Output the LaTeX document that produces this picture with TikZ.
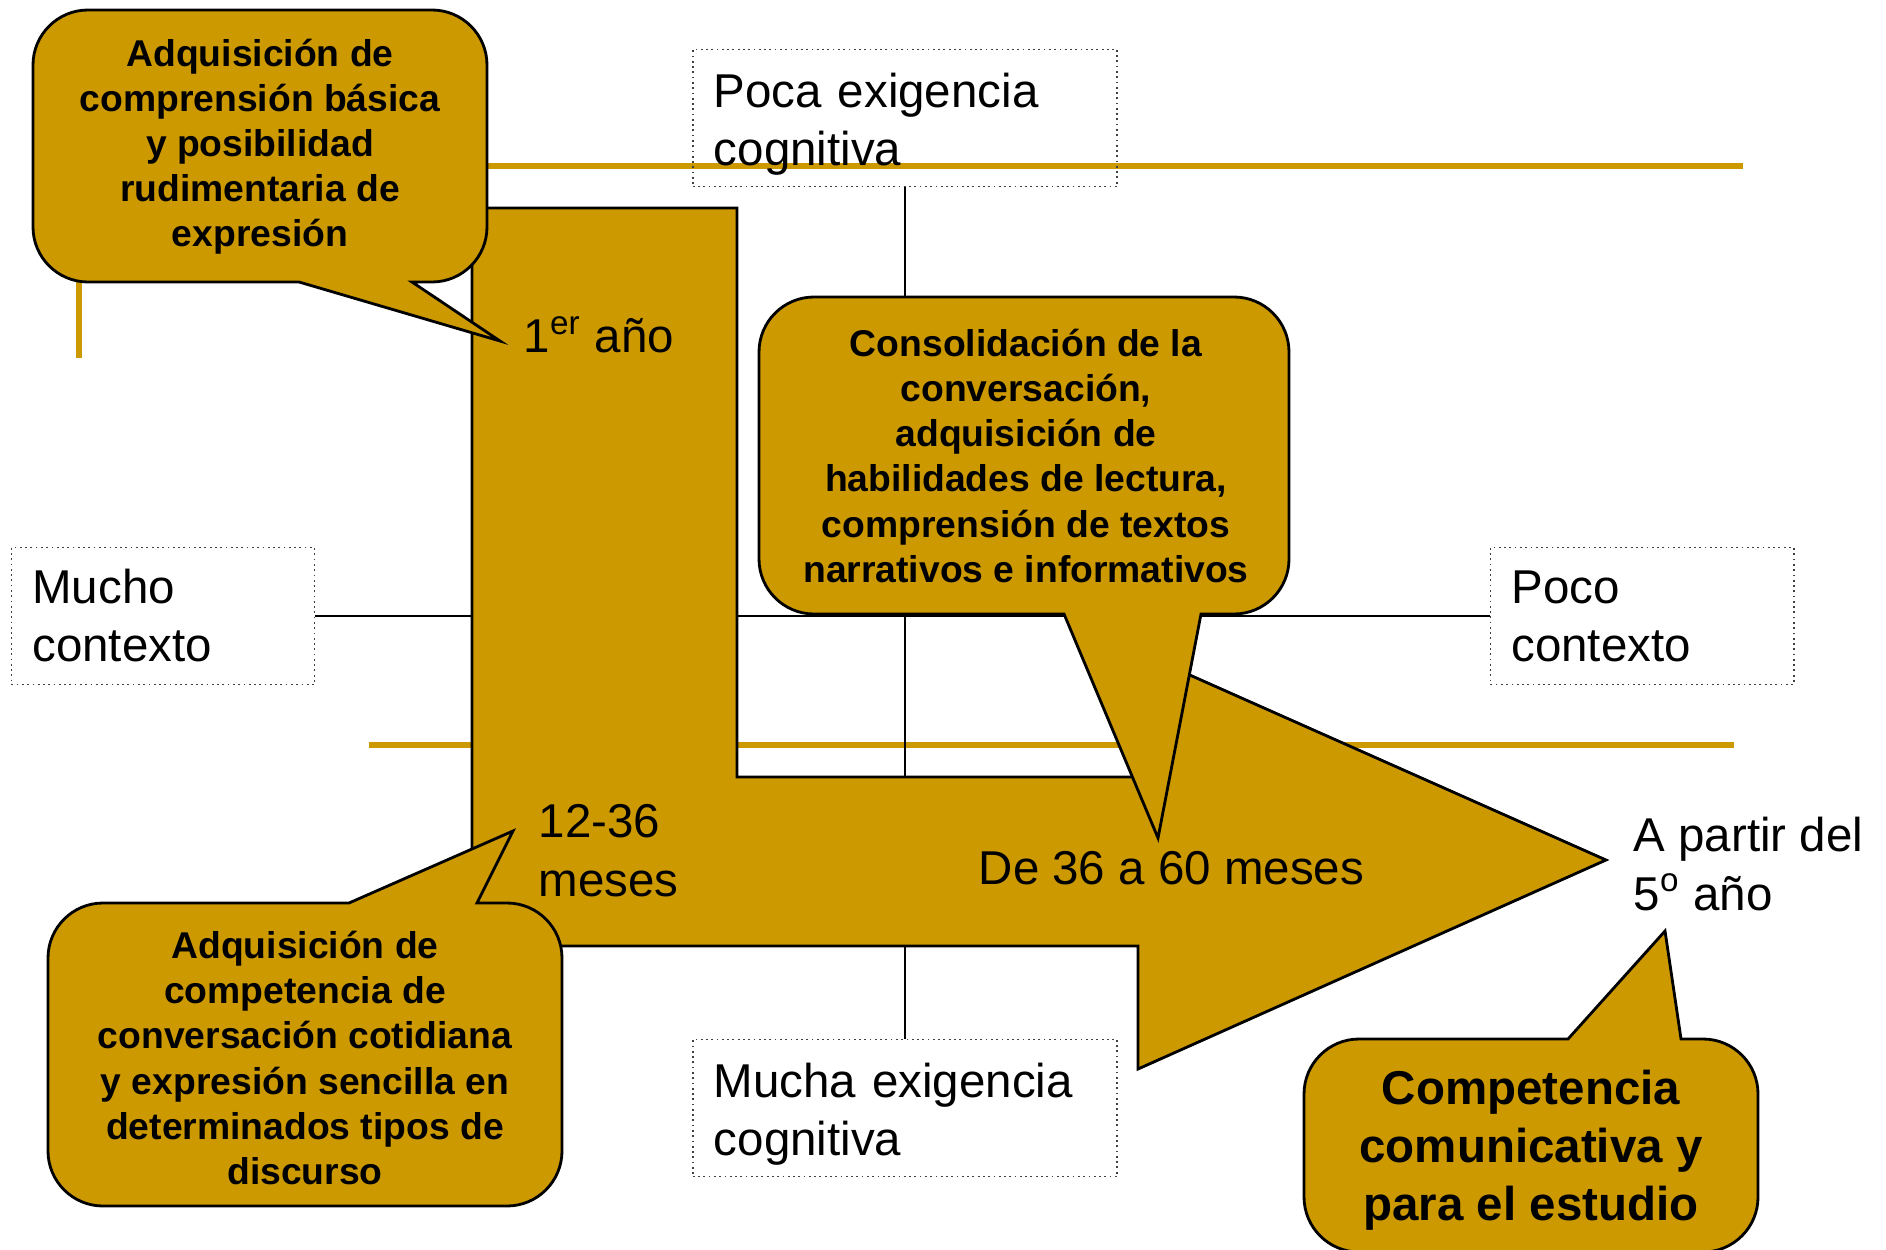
\documentclass[tikz,border=0pt]{standalone}
\usepackage{fontspec}
\setmainfont{Liberation Sans}
\definecolor{gold}{RGB}{204,153,0}

\begin{document}
\begin{tikzpicture}[x=0.01cm,y=-0.01cm,
  goldline/.style={gold,line width=1.5pt},
  axis/.style={black,line width=0.6pt},
  ctxbox/.style={draw=black!75,densely dotted,line width=0.5pt,text width=#1,align=left,
    inner xsep=0.21cm,inner ysep=0pt,minimum height=1.37cm,font=\fontsize{13.5}{16.5}\selectfont},
  growth/.style={fill=gold,draw=black,line width=0.8pt,line join=miter},
  bubble/.style={fill=gold,draw=black,line width=0.8pt,rounded corners=0.55cm},
  note/.style={font=\bfseries\fontsize{10.6}{12.8}\selectfont,align=center,inner sep=0pt},
  bignote/.style={font=\bfseries\fontsize{13.5}{16.5}\selectfont,align=center,inner sep=0pt},
  stage/.style={font=\fontsize{13.5}{16.5}\selectfont,align=left,anchor=base west,inner sep=0pt}]
\useasboundingbox (0,0) rectangle (1886,1249);

\draw[goldline] (79,358) -- (79,166) -- (1743,166);
\draw[goldline] (369,745) -- (1734,745);

\node[ctxbox=3.82cm,text depth=0.56cm] (poca) at (905,118) {Poca exigencia\\cognitiva};
\node[ctxbox=3.82cm,text depth=0.56cm] (mucha) at (905,1108) {Mucha exigencia\\cognitiva};
\node[ctxbox=2.61cm] (mucho) at (163,616) {Mucho\\contexto};
\node[ctxbox=2.61cm] (poco) at (1642,616) {Poco\\contexto};
\draw[axis] (mucho) -- (poco);
\draw[axis] (poca) -- (mucha);

\draw[growth] (472,208) -- (737,208) -- (737,777) -- (1138,777) -- (1138,652) -- (1606,860)
  -- (1138,1069) -- (1138,946) -- (472,946) -- cycle;

\draw[bubble] (260,10) -- (487,10) -- (487,282) [sharp corners] -- (412,282) -- (500,341)
  -- (299,282) [rounded corners=0.55cm] -- (33,282) -- (33,10) -- cycle;
\draw[bubble] (1024,297) -- (1289,297) -- (1289,614) [sharp corners] -- (1201,614) -- (1158,838)
  -- (1064,614) [rounded corners=0.55cm] -- (759,614) -- (759,297) -- cycle;
\draw[bubble] (305,1206) -- (48,1206) -- (48,903) [sharp corners] -- (349,903) -- (513,831)
  -- (477,903) [rounded corners=0.55cm] -- (562,903) -- (562,1206) -- cycle;
\draw[bubble] (1531,1252) -- (1304,1252) -- (1304,1039) [sharp corners] -- (1568,1039) -- (1665,931)
  -- (1681,1039) [rounded corners=0.55cm] -- (1758,1039) -- (1758,1252) -- cycle;

\node[note] (basica) at (260,147) {Adquisición de\\comprensión básica\\y posibilidad\\rudimentaria de\\expresión};
\node[note] (lectura) at (1026,456) {Consolidación de la\\conversación,\\adquisición de\\habilidades de lectura,\\comprensión de textos\\narrativos e informativos};
\node[note] (cotidiana) at (305,1058) {Adquisición de\\competencia de\\conversación cotidiana\\y expresión sencilla en\\determinados tipos de\\discurso};
\node[bignote] (estudio) at (1531,1150) {Competencia\\comunicativa y\\para el estudio};

\node[stage] (year1) at (523,353) {1\textsuperscript{er} año};
\node[stage] (early) at (538,896) {12-36\\meses};
\node[stage] (middle) at (978,884) {De 36 a 60 meses};
\node[stage] (year5) at (1633,910) {A partir del\\5\textsuperscript{o} año};
\end{tikzpicture}
\end{document}
